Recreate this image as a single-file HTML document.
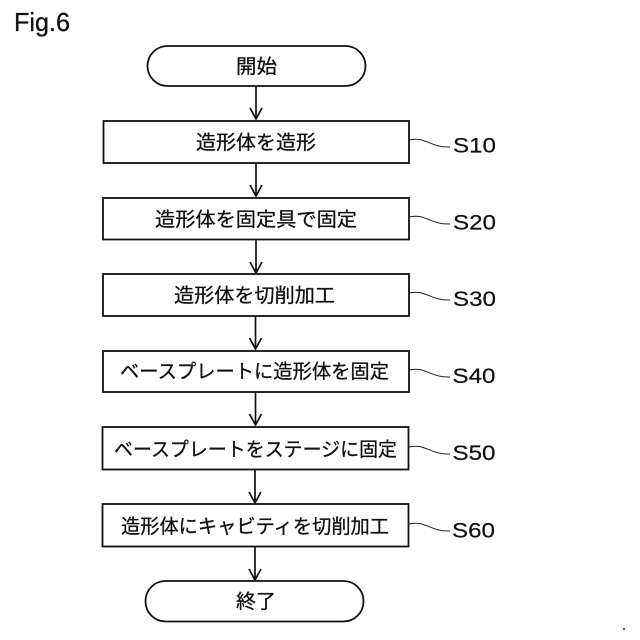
<!DOCTYPE html>
<html><head><meta charset="utf-8"><style>
html,body{margin:0;padding:0;background:#fff}
svg{display:block}
.j{font-family:"Liberation Sans","Noto Sans CJK JP",sans-serif;font-size:19.5px;fill:#111;stroke:#111;stroke-width:.3}
.s{font-family:"Liberation Sans",sans-serif;font-size:21px;fill:#111;stroke:#111;stroke-width:.2}
</style></head><body>
<svg width="640" height="640" viewBox="0 0 640 640" xmlns="http://www.w3.org/2000/svg">
<rect width="640" height="640" fill="#fff"/>
<text x="14" y="31" font-family="Liberation Sans,sans-serif" font-size="26" fill="#111" stroke="#111" stroke-width=".3" textLength="56" lengthAdjust="spacingAndGlyphs">Fig.6</text>
<g fill="#fff" stroke="#111" stroke-width="1.8">
<rect x="147.5" y="46" width="218" height="40" rx="20" ry="20"/>
<rect x="103.5" y="121" width="305.5" height="42"/>
<rect x="103" y="198" width="306" height="41.5"/>
<rect x="103" y="274" width="306" height="42"/>
<rect x="103" y="351" width="306" height="41"/>
<rect x="102.5" y="427" width="306" height="42.5"/>
<rect x="102.5" y="504" width="306" height="42.5"/>
<rect x="145.5" y="581" width="218" height="40.5" rx="20" ry="20"/>
</g>
<g fill="none" stroke="#111" stroke-width="1.7">
<path d="M256 86V119M250 108L256 119L262 108"/>
<path d="M256 163V196M250 185L256 196L262 185"/>
<path d="M256 240V273M250 262L256 273L262 262"/>
<path d="M255.500 316V349M249.500 338L255.500 349L261.500 338"/>
<path d="M255.500 392V425M249.500 414L255.500 425L261.500 414"/>
<path d="M255 470V503M249 492L255 503L261 492"/>
<path d="M255 547V580M249 569L255 580L261 569"/>
</g>
<g fill="none" stroke="#222" stroke-width="1">
<path d="M409 140C425 136 431 148 450 147"/>
<path d="M409 217C425 213 431 225 450 224"/>
<path d="M409 293C425 289 431 301 450 300"/>
<path d="M409 370C425 366 431 378 450 377"/>
<path d="M409 447C425 443 431 455 450 454"/>
<path d="M409 524C425 520 431 532 450 531"/>
</g>
<g>
<text class="j" x="236" y="73" textLength="41" lengthAdjust="spacingAndGlyphs">開始</text>
<text class="j" x="196" y="149" textLength="120" lengthAdjust="spacingAndGlyphs">造形体を造形</text>
<text class="j" x="155" y="226" textLength="202" lengthAdjust="spacingAndGlyphs">造形体を固定具で固定</text>
<text class="j" x="174" y="302" textLength="161" lengthAdjust="spacingAndGlyphs">造形体を切削加工</text>
<text class="j" x="120" y="378" textLength="269" lengthAdjust="spacingAndGlyphs">ベースプレートに造形体を固定</text>
<text class="j" x="114" y="456" textLength="283" lengthAdjust="spacingAndGlyphs">ベースプレートをステージに固定</text>
<text class="j" x="121" y="533" textLength="268" lengthAdjust="spacingAndGlyphs">造形体にキャビティを切削加工</text>
<text class="j" x="236" y="608" textLength="40" lengthAdjust="spacingAndGlyphs">終了</text>
</g>
<text class="s" x="453" y="152.500" textLength="43" lengthAdjust="spacingAndGlyphs">S10</text>
<text class="s" x="453" y="229.500" textLength="43" lengthAdjust="spacingAndGlyphs">S20</text>
<text class="s" x="453" y="306" textLength="43" lengthAdjust="spacingAndGlyphs">S30</text>
<text class="s" x="452.500" y="383" textLength="43" lengthAdjust="spacingAndGlyphs">S40</text>
<text class="s" x="452.500" y="460" textLength="43" lengthAdjust="spacingAndGlyphs">S50</text>
<text class="s" x="452" y="537.500" textLength="43" lengthAdjust="spacingAndGlyphs">S60</text>
<rect x="623" y="628" width="2" height="2" fill="#555"/>
</svg>
</body></html>
